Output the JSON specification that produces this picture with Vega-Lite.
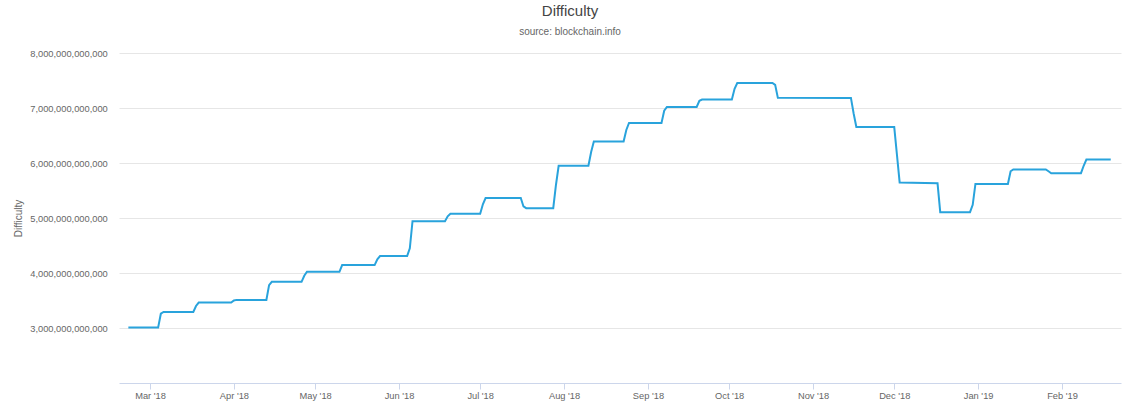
{
  "$schema": "https://vega.github.io/schema/vega-lite/v6.json",
  "width": 1002,
  "height": 330,
  "autosize": {"type": "none"},
  "padding": {"left": 119, "top": 53, "right": 19, "bottom": 30},
  "background": "white",
  "config": {"view": {"stroke": null}, "font": "Liberation Sans"},
  "title": {
    "text": "Difficulty",
    "subtitle": "source: blockchain.info",
    "anchor": "middle",
    "dx": -50,
    "font": "Liberation Sans",
    "fontSize": 15,
    "fontWeight": "normal",
    "color": "#444444",
    "subtitleFont": "Liberation Sans",
    "subtitleFontSize": 10,
    "subtitleColor": "#666666",
    "subtitlePadding": 8,
    "offset": 12
  },
  "data": {
    "values": [
      {"date": "2018-02-21", "difficulty": 3007383866430},
      {"date": "2018-03-04", "difficulty": 3007383866430},
      {"date": "2018-03-05", "difficulty": 3260000000000},
      {"date": "2018-03-06", "difficulty": 3290605988755},
      {"date": "2018-03-17", "difficulty": 3290605988755},
      {"date": "2018-03-18", "difficulty": 3400000000000},
      {"date": "2018-03-19", "difficulty": 3462542391191},
      {"date": "2018-03-31", "difficulty": 3462542391191},
      {"date": "2018-04-01", "difficulty": 3500000000000},
      {"date": "2018-04-02", "difficulty": 3511060552899},
      {"date": "2018-04-13", "difficulty": 3511060552899},
      {"date": "2018-04-14", "difficulty": 3780000000000},
      {"date": "2018-04-15", "difficulty": 3839316899029},
      {"date": "2018-04-26", "difficulty": 3839316899029},
      {"date": "2018-04-27", "difficulty": 3950000000000},
      {"date": "2018-04-28", "difficulty": 4022059196164},
      {"date": "2018-05-10", "difficulty": 4022059196164},
      {"date": "2018-05-11", "difficulty": 4143878474754},
      {"date": "2018-05-23", "difficulty": 4143878474754},
      {"date": "2018-05-24", "difficulty": 4250000000000},
      {"date": "2018-05-25", "difficulty": 4306949573981},
      {"date": "2018-06-04", "difficulty": 4306949573981},
      {"date": "2018-06-05", "difficulty": 4450000000000},
      {"date": "2018-06-06", "difficulty": 4940704885521},
      {"date": "2018-06-18", "difficulty": 4940704885521},
      {"date": "2018-06-19", "difficulty": 5030000000000},
      {"date": "2018-06-20", "difficulty": 5077499034879},
      {"date": "2018-07-01", "difficulty": 5077499034879},
      {"date": "2018-07-02", "difficulty": 5250000000000},
      {"date": "2018-07-03", "difficulty": 5363138171949},
      {"date": "2018-07-16", "difficulty": 5363138171949},
      {"date": "2018-07-17", "difficulty": 5210000000000},
      {"date": "2018-07-18", "difficulty": 5178671069072},
      {"date": "2018-07-28", "difficulty": 5178671069072},
      {"date": "2018-07-29", "difficulty": 5600000000000},
      {"date": "2018-07-30", "difficulty": 5949437371609},
      {"date": "2018-08-10", "difficulty": 5949437371609},
      {"date": "2018-08-11", "difficulty": 6200000000000},
      {"date": "2018-08-12", "difficulty": 6389316883512},
      {"date": "2018-08-23", "difficulty": 6389316883512},
      {"date": "2018-08-24", "difficulty": 6600000000000},
      {"date": "2018-08-25", "difficulty": 6727225469722},
      {"date": "2018-09-06", "difficulty": 6727225469722},
      {"date": "2018-09-07", "difficulty": 6950000000000},
      {"date": "2018-09-08", "difficulty": 7019199231177},
      {"date": "2018-09-19", "difficulty": 7019199231177},
      {"date": "2018-09-20", "difficulty": 7130000000000},
      {"date": "2018-09-21", "difficulty": 7152633351906},
      {"date": "2018-10-02", "difficulty": 7152633351906},
      {"date": "2018-10-03", "difficulty": 7350000000000},
      {"date": "2018-10-04", "difficulty": 7454968648263},
      {"date": "2018-10-17", "difficulty": 7454968648263},
      {"date": "2018-10-18", "difficulty": 7420000000000},
      {"date": "2018-10-19", "difficulty": 7184404942701},
      {"date": "2018-11-15", "difficulty": 7182852313938},
      {"date": "2018-11-16", "difficulty": 6900000000000},
      {"date": "2018-11-17", "difficulty": 6653303141405},
      {"date": "2018-12-01", "difficulty": 6653303141405},
      {"date": "2018-12-02", "difficulty": 6150000000000},
      {"date": "2018-12-03", "difficulty": 5646403851534},
      {"date": "2018-12-17", "difficulty": 5630000000000},
      {"date": "2018-12-18", "difficulty": 5106422924659},
      {"date": "2018-12-29", "difficulty": 5106422924659},
      {"date": "2018-12-30", "difficulty": 5240000000000},
      {"date": "2018-12-31", "difficulty": 5618595848853},
      {"date": "2019-01-12", "difficulty": 5618595848853},
      {"date": "2019-01-13", "difficulty": 5850000000000},
      {"date": "2019-01-14", "difficulty": 5883988430955},
      {"date": "2019-01-26", "difficulty": 5883988430955},
      {"date": "2019-01-27", "difficulty": 5850000000000},
      {"date": "2019-01-28", "difficulty": 5814661935891},
      {"date": "2019-02-08", "difficulty": 5814661935891},
      {"date": "2019-02-09", "difficulty": 5950000000000},
      {"date": "2019-02-10", "difficulty": 6061518831027},
      {"date": "2019-02-19", "difficulty": 6061518831027}
    ]
  },
  "mark": {"type": "line", "color": "#29a3dc", "strokeWidth": 2, "interpolate": "linear"},
  "encoding": {
    "x": {
      "field": "date",
      "type": "temporal",
      "scale": {
        "type": "utc",
        "domain": [
          {"year": 2018, "month": 2, "date": 17, "hours": 13, "utc": true},
          {"year": 2019, "month": 2, "date": 22, "hours": 19, "utc": true}
        ]
      },
      "axis": {
        "title": null,
        "grid": false,
        "labelExpr": "utcFormat(datum.value, \"%b '%y\")",
        "values": [
          {"year": 2018, "month": 3, "date": 1, "utc": true},
          {"year": 2018, "month": 4, "date": 1, "utc": true},
          {"year": 2018, "month": 5, "date": 1, "utc": true},
          {"year": 2018, "month": 6, "date": 1, "utc": true},
          {"year": 2018, "month": 7, "date": 1, "utc": true},
          {"year": 2018, "month": 8, "date": 1, "utc": true},
          {"year": 2018, "month": 9, "date": 1, "utc": true},
          {"year": 2018, "month": 10, "date": 1, "utc": true},
          {"year": 2018, "month": 11, "date": 1, "utc": true},
          {"year": 2018, "month": 12, "date": 1, "utc": true},
          {"year": 2019, "month": 1, "date": 1, "utc": true},
          {"year": 2019, "month": 2, "date": 1, "utc": true}
        ],
        "domainColor": "#ccd6eb",
        "domainWidth": 1,
        "tickColor": "#ccd6eb",
        "tickSize": 6,
        "labelPadding": 2,
        "labelFontSize": 9.3,
        "labelColor": "#666666",
        "labelFont": "Liberation Sans"
      }
    },
    "y": {
      "field": "difficulty",
      "type": "quantitative",
      "scale": {"domain": [2000000000000, 8000000000000], "nice": false, "zero": false},
      "axis": {
        "title": "Difficulty",
        "titleFont": "Liberation Sans",
        "titleFontSize": 10,
        "titleFontWeight": "normal",
        "titleColor": "#666666",
        "titleX": -96,
        "titleY": 165,
        "values": [3000000000000, 4000000000000, 5000000000000, 6000000000000, 7000000000000, 8000000000000],
        "format": ",.0f",
        "grid": true,
        "gridColor": "#e6e6e6",
        "gridWidth": 1,
        "domain": false,
        "ticks": false,
        "labelPadding": 11.7,
        "labelFontSize": 9.3,
        "labelColor": "#666666",
        "labelFont": "Liberation Sans"
      }
    }
  }
}
